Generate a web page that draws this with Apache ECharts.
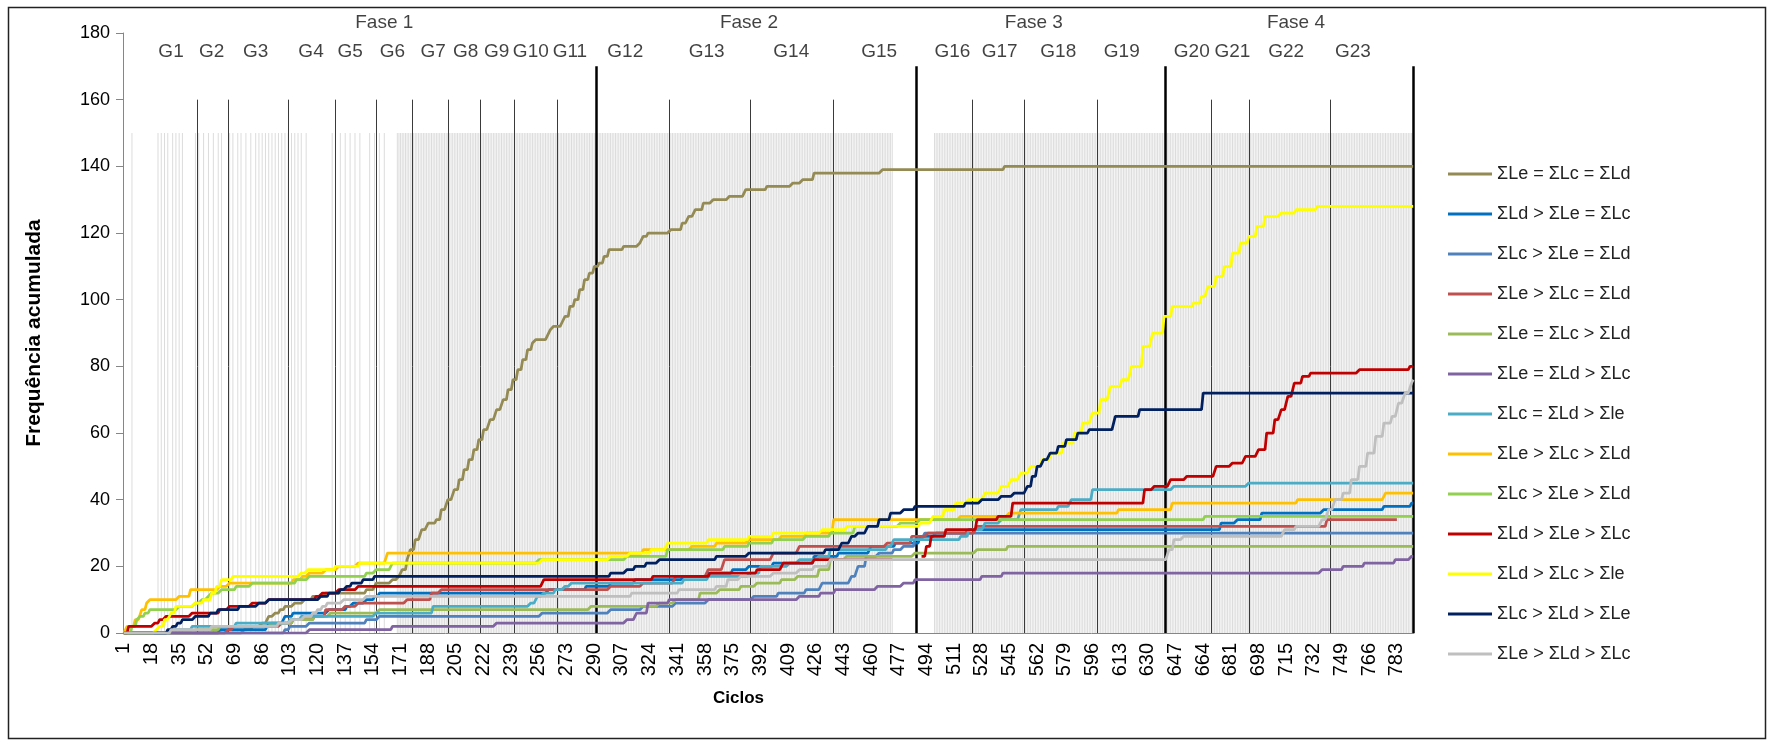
<!DOCTYPE html>
<html><head><meta charset="utf-8">
<script src="https://cdn.jsdelivr.net/npm/echarts@6/dist/echarts.min.js"></script>
<style>html,body{margin:0;padding:0;background:#fff}#c{width:1767px;height:741px}</style>
</head><body><div id="c"></div>
<script>
const N_CYCLES = 793;
const FONT = 'Liberation Sans';

const seriesNames = ['ΣLe = ΣLc = ΣLd','ΣLd > ΣLe = ΣLc','ΣLc > ΣLe = ΣLd','ΣLe > ΣLc = ΣLd','ΣLe = ΣLc > ΣLd','ΣLe = ΣLd > ΣLc','ΣLc = ΣLd > Σle','ΣLe > ΣLc > ΣLd','ΣLc > ΣLe > ΣLd','ΣLd > ΣLe > ΣLc','ΣLd > ΣLc > Σle','ΣLc > ΣLd > ΣLe','ΣLe > ΣLd > ΣLc'];
const seriesColors = ['#948A54','#0070C0','#4F81BD','#C0504D','#9BBB59','#8064A2','#4BACC6','#FFC000','#92D050','#C00000','#FFFF00','#002060','#BFBFBF'];

// cumulative values: [cycle, value] at each change
const eqAll = [[1,0],[75,1],[80,2],[86,3],[90,5],[94,6],[97,7],[100,8],[106,9],[112,10],[117,11],[125,12],[150,13],[156,15],[166,16],[170,17],[172,19],[175,22],[177,25],[180,28],[184,31],[188,33],[193,34],[196,37],[200,40],[204,43],[207,46],[210,49],[213,52],[216,55],[219,58],[222,61],[226,64],[230,67],[234,70],[237,73],[240,76],[243,79],[246,82],[249,85],[252,87],[254,88],[261,89],[263,91],[265,92],[270,93],[272,95],[275,98],[278,100],[281,103],[284,106],[287,108],[290,110],[293,111],[296,113],[299,115],[308,116],[318,117],[320,119],[323,120],[337,121],[344,123],[348,125],[352,127],[357,129],[363,130],[373,131],[383,133],[396,134],[412,135],[418,136],[425,138],[467,139],[542,140],[793,140]];
const ldGtLeEqLc = [[1,0],[60,1],[90,3],[100,5],[105,6],[127,7],[138,8],[142,9],[150,10],[155,11],[158,12],[262,13],[285,14],[300,15],[315,16],[345,17],[360,18],[375,19],[385,20],[400,21],[425,23],[440,24],[460,26],[475,27],[490,29],[500,30],[520,31],[675,33],[685,34],[700,36],[738,37],[775,38],[792,39],[793,39]];
const lcGtLeEqLd = [[1,0],[100,1],[103,2],[115,3],[150,4],[158,5],[258,6],[300,7],[320,8],[340,9],[360,10],[388,11],[403,12],[420,13],[430,15],[448,17],[452,20],[457,23],[465,24],[474,25],[480,26],[487,28],[493,30],[793,30]];
const leGtLcEqLd = [[1,0],[65,1],[68,2],[98,3],[105,4],[118,5],[125,7],[137,8],[145,9],[175,10],[190,12],[196,13],[300,14],[320,15],[340,17],[360,19],[370,22],[400,24],[416,26],[470,27],[485,29],[495,30],[525,32],[740,34],[783,34]];
const leEqLcGtLd = [[1,0],[45,1],[60,2],[92,3],[105,4],[118,5],[128,6],[158,7],[288,8],[330,9],[340,10],[355,12],[367,13],[380,14],[390,15],[405,16],[415,17],[428,19],[435,22],[445,23],[487,24],[525,25],[544,26],[793,26]];
const leEqLdGtLc = [[1,0],[115,1],[166,2],[230,3],[310,4],[316,6],[323,9],[336,10],[416,11],[429,12],[438,13],[464,14],[480,15],[487,16],[528,17],[541,18],[737,19],[750,20],[763,21],[782,22],[792,23],[793,23]];
const lcEqLdGtLe = [[1,0],[30,1],[43,2],[70,3],[103,4],[110,5],[156,6],[191,8],[251,9],[255,11],[259,12],[266,13],[272,14],[276,15],[345,16],[360,17],[385,18],[392,20],[410,21],[416,22],[428,23],[435,25],[470,26],[474,28],[515,29],[520,31],[530,33],[540,34],[552,37],[575,38],[583,40],[596,43],[646,44],[692,45],[793,45]];
const leGtLcGtLd = [[1,0],[3,2],[8,4],[12,7],[15,9],[17,10],[35,11],[42,13],[60,14],[66,15],[105,16],[111,17],[115,18],[125,19],[133,20],[145,21],[163,24],[320,25],[350,26],[365,27],[385,28],[405,29],[420,30],[437,34],[515,35],[545,36],[612,37],[645,39],[722,40],[776,42],[793,42]];
const lcGtLeGtLd = [[1,0],[6,2],[9,4],[11,5],[14,6],[17,7],[35,8],[45,9],[49,10],[53,11],[55,12],[61,13],[70,14],[80,15],[107,16],[115,17],[150,18],[156,19],[166,21],[256,22],[310,23],[335,25],[370,26],[385,27],[400,28],[420,29],[435,30],[450,32],[478,33],[490,34],[665,35],[793,35]];
const ldGtLeGtLc = [[1,0],[4,2],[20,3],[23,4],[27,5],[43,6],[60,7],[66,8],[80,9],[90,10],[119,11],[123,12],[133,13],[145,14],[259,16],[326,17],[361,18],[390,19],[406,21],[425,22],[473,22],[474,null],[491,23],[494,26],[497,29],[506,31],[525,34],[538,35],[547,39],[628,43],[634,44],[644,46],[654,47],[672,50],[682,51],[690,53],[698,55],[703,60],[708,64],[712,67],[716,71],[720,75],[725,77],[730,78],[760,79],[791,80],[793,80]];
const ldGtLcGtLe = [[1,0],[21,1],[23,2],[26,4],[30,6],[33,8],[45,9],[50,10],[55,12],[58,14],[61,16],[68,17],[110,18],[114,19],[131,20],[146,21],[258,22],[300,23],[312,24],[325,25],[335,27],[360,28],[385,29],[400,30],[430,31],[445,32],[490,33],[498,35],[505,37],[512,39],[520,40],[530,42],[540,44],[546,46],[552,48],[558,50],[565,52],[571,54],[578,57],[585,60],[590,63],[596,66],[601,70],[607,74],[614,76],[620,80],[627,86],[633,90],[640,95],[645,98],[658,99],[663,101],[667,104],[672,107],[677,110],[682,114],[687,117],[692,119],[697,122],[702,125],[712,126],[721,127],[734,128],[793,128]];
const lcGtLdGtLe = [[1,0],[28,1],[31,2],[34,3],[37,4],[45,5],[54,6],[59,7],[72,8],[84,9],[90,10],[122,11],[127,12],[134,13],[138,14],[141,15],[148,16],[155,17],[300,18],[310,19],[315,20],[322,21],[330,22],[365,23],[385,24],[432,25],[442,27],[448,29],[452,30],[458,32],[465,34],[472,36],[480,37],[487,38],[518,39],[528,40],[540,41],[548,42],[556,44],[559,47],[562,50],[566,52],[570,54],[575,56],[580,58],[587,60],[594,61],[610,65],[625,67],[664,72],[793,72]];
const leGtLdGtLc = [[1,0],[30,1],[55,2],[96,3],[104,4],[112,5],[117,6],[120,7],[123,8],[126,9],[136,10],[150,11],[313,12],[342,13],[365,14],[372,16],[380,17],[400,18],[416,19],[425,20],[435,22],[643,25],[646,28],[652,29],[714,31],[721,32],[737,34],[741,37],[745,40],[750,42],[755,46],[760,50],[765,54],[770,59],[775,63],[780,65],[784,69],[788,72],[792,75],[793,76]];

const seriesPoints = [eqAll, ldGtLeEqLc, lcGtLeEqLd, leGtLcEqLd, leEqLcGtLd, leEqLdGtLc, lcEqLdGtLe, leGtLcGtLd, lcGtLeGtLd, ldGtLeGtLc, ldGtLcGtLe, lcGtLdGtLe, leGtLdGtLc];

// background grey marks (cycles)
const bgSingles = [6,22,24,26,28,31,33,35,37,45,47,50,53,56,59,61,66,68,71,73,76,79,82,84,86,88,90,92,94,96,98,100,102,104,106,108,110,113,129,131,134,137,140,143,146,152,155,158,161];
const bgRanges = [[169,473],[499,793]];
const BG_VALUE = 150;

// group and phase boundaries (cycles)
const groupEnds = [46,65,102,131,156,178,200,220,241,267,336,386,437,522,554,599,669,692,742];
const GROUP_TOP = 160;
const phaseEnds = [291,488,641,793];
const PHASE_TOP = 170;
const groupLabels = ['G1','G2','G3','G4','G5','G6','G7','G8','G9','G10','G11','G12','G13','G14','G15','G16','G17','G18','G19','G20','G21','G22','G23'];
const groupLabelAt = [30,55,82,116,140,166,191,211,230,251,275,309,359,411,465,510,539,575,614,657,682,715,756];
const GROUP_LABEL_Y = 174.3;
const phaseLabels = ['Fase 1','Fase 2','Fase 3','Fase 4'];
const phaseLabelAt = [161,385,560,721];
const PHASE_LABEL_Y = 183;

const cycles = [];
for (let i = 1; i <= N_CYCLES; i++) cycles.push(String(i));

function expand(points) {
  const out = [];
  const last = points[points.length - 1][0];
  let k = 0, cur = null;
  for (let c = 1; c <= N_CYCLES; c++) {
    while (k < points.length && points[k][0] <= c) { cur = points[k][1]; k++; }
    out.push(c > last || cur === null ? '-' : cur);
  }
  return out;
}

const bgSet = new Set(bgSingles);
bgRanges.forEach(r => { for (let c = r[0]; c <= r[1]; c++) bgSet.add(c); });
const bgData = cycles.map((_, i) => bgSet.has(i + 1) ? BG_VALUE : '-');

const markData = [];
groupEnds.forEach(c => markData.push([{xAxis: String(c), yAxis: 0, lineStyle:{color:'#3a3a3a', width:1, type:'solid'}}, {xAxis: String(c), yAxis: GROUP_TOP}]));
phaseEnds.forEach(c => markData.push([{xAxis: String(c), yAxis: 0, lineStyle:{color:'#000', width:2.5, type:'solid'}}, {xAxis: String(c), yAxis: PHASE_TOP}]));

const series = [{
  type: 'bar', data: bgData, barWidth: 1, silent: true, z: 1,
  itemStyle: {color: '#dcdcdc'},
  markLine: {silent: true, symbol: ['none','none'], label: {show: false}, animation: false,
    lineStyle: {type: 'solid'}, emphasis: {disabled: true}, data: markData}
}];
seriesPoints.forEach((pts, i) => {
  series.push({
    name: seriesNames[i], type: 'line', data: expand(pts), symbol: 'none', z: 10,
    connectNulls: false, silent: true,
    lineStyle: {width: 2.75, color: seriesColors[i]}, itemStyle: {color: seriesColors[i]}
  });
});
series.push({
  type: 'scatter', silent: true, z: 20, symbolSize: 1, clip: false, itemStyle: {color: 'rgba(0,0,0,0)'},
  label: {show: true, position: 'inside', formatter: p => p.data[2], fontSize: 19, color: '#111', fontFamily: FONT},
  data: groupLabels.map((g, i) => [String(groupLabelAt[i]), GROUP_LABEL_Y, g])
    .concat(phaseLabels.map((f, i) => [String(phaseLabelAt[i]), PHASE_LABEL_Y, f]))
});

const chart = echarts.init(document.getElementById('c'), null, {renderer: 'canvas'});
chart.setOption({
  animation: false,
  backgroundColor: '#fff',
  textStyle: {fontFamily: FONT},
  grid: {left: 123, right: 353, top: 33, bottom: 108, containLabel: false},
  legend: {
    data: seriesNames, orient: 'vertical', left: 1443, top: 160,
    icon: 'rect', itemWidth: 44, itemHeight: 3, itemGap: 22, selectedMode: false,
    textStyle: {fontSize: 18, color: '#222', lineHeight: 18, fontFamily: FONT}
  },
  xAxis: {
    type: 'category', data: cycles, boundaryGap: true,
    axisLine: {lineStyle: {color: '#868686'}},
    axisTick: {interval: 0, length: 6, lineStyle: {color: '#9a9a9a'}},
    axisLabel: {interval: 16, rotate: 90, fontSize: 20, color: '#000', margin: 10, fontFamily: FONT},
    splitLine: {show: false}
  },
  yAxis: {
    type: 'value', min: 0, max: 180, interval: 20,
    name: 'Frequência acumulada', nameLocation: 'middle', nameGap: 78,
    nameTextStyle: {fontSize: 21, fontWeight: 'bold', color: '#000', fontFamily: FONT},
    axisLine: {show: true, lineStyle: {color: '#868686'}},
    axisTick: {show: true, length: 7, lineStyle: {color: '#868686'}},
    axisLabel: {fontSize: 18, color: '#000', margin: 13, fontFamily: FONT},
    splitLine: {show: false}
  },
  graphic: [
    {type: 'rect', shape: {x: 8.5, y: 7.5, width: 1757, height: 731}, style: {fill: 'none', stroke: '#222', lineWidth: 1.5}, silent: true},
    {type: 'text', left: 713, top: 690, style: {text: 'Ciclos', fontSize: 17, fontWeight: 'bold', fill: '#000', fontFamily: FONT}, silent: true}
  ],
  series: series
});
</script>
</body></html>
